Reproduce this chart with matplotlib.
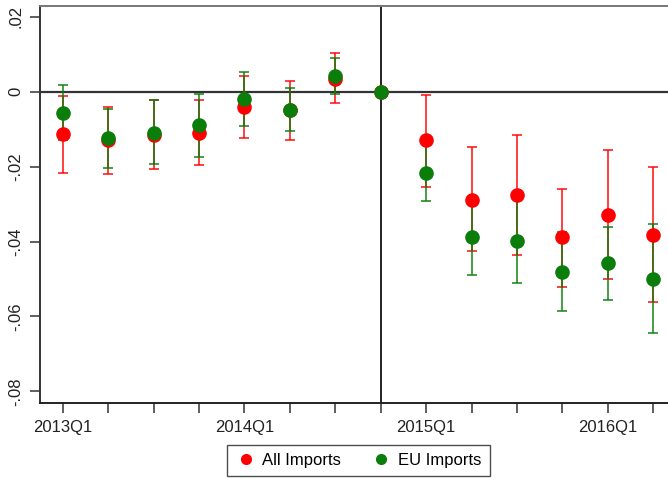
"""Event-study style coefficient plot: All Imports vs EU Imports by quarter."""

import matplotlib

matplotlib.use("Agg")
import matplotlib.pyplot as plt
from matplotlib.lines import Line2D

plt.rcParams["font.family"] = ["Liberation Sans", "DejaVu Sans"]

quarters = [
    "2013Q1", "2013Q2", "2013Q3", "2013Q4",
    "2014Q1", "2014Q2", "2014Q3", "2014Q4",
    "2015Q1", "2015Q2", "2015Q3", "2015Q4",
    "2016Q1", "2016Q2",
]
tick_labels = ["2013Q1", "2014Q1", "2015Q1", "2016Q1"]
event_quarter = "2014Q4"

all_coef = [-0.0114, -0.0129, -0.0115, -0.0109, -0.0041, -0.0050, 0.0035, 0.0,
            -0.0130, -0.0288, -0.0275, -0.0389, -0.0328, -0.0382]
all_hi = [-0.0011, -0.0041, -0.0021, -0.0021, 0.0042, 0.0029, 0.0104, 0.0,
          -0.0008, -0.0148, -0.0116, -0.0259, -0.0155, -0.0200]
all_lo = [-0.0217, -0.0220, -0.0205, -0.0195, -0.0123, -0.0128, -0.0030, 0.0,
          -0.0253, -0.0425, -0.0436, -0.0520, -0.0500, -0.0561]

eu_coef = [-0.0058, -0.0123, -0.0109, -0.0090, -0.0020, -0.0048, 0.0042, 0.0,
           -0.0216, -0.0388, -0.0398, -0.0481, -0.0457, -0.0500]
eu_hi = [0.0017, -0.0045, -0.0021, -0.0006, 0.0054, 0.0011, 0.0089, 0.0,
         -0.0138, -0.0285, -0.0285, -0.0375, -0.0360, -0.0354]
eu_lo = [-0.0130, -0.0203, -0.0193, -0.0175, -0.0091, -0.0105, -0.0005, 0.0,
         -0.0292, -0.0489, -0.0511, -0.0586, -0.0555, -0.0644]

RED = "#ff0000"
GREEN = "#0a7d0a"

x = list(range(len(quarters)))
event_x = quarters.index(event_quarter)

fig = plt.figure(figsize=(6.68, 4.79), dpi=100)
ax = fig.add_axes([40 / 668, 76 / 479, 636 / 668, 397 / 479])

for coef, lo, hi, col in ((all_coef, all_lo, all_hi, RED), (eu_coef, eu_lo, eu_hi, GREEN)):
    idx = [i for i in x if i != event_x]
    ax.errorbar(
        idx,
        [coef[i] for i in idx],
        yerr=[[coef[i] - lo[i] for i in idx], [hi[i] - coef[i] for i in idx]],
        fmt="none", ecolor=col, elinewidth=1.4, capsize=3.6, capthick=1.4,
        alpha=0.75, zorder=2,
    )
ax.plot(x, all_coef, "o", color=RED, markersize=9.5, zorder=3)
ax.plot(x, eu_coef, "o", color=GREEN, markersize=9.5, zorder=4)

ax.axhline(0, color="#333333", linewidth=1.6, zorder=1)
ax.axvline(event_x, color="#111111", linewidth=1.3, zorder=1)

ax.set_xlim(-0.5, len(quarters) - 0.5)
ax.set_ylim(-0.0831, 0.0229)
ax.set_xticks(x)
ax.set_xticklabels([q if q in tick_labels else "" for q in quarters], fontsize=12, color="#222222")
yticks = [0.02, 0.0, -0.02, -0.04, -0.06, -0.08]
ax.set_yticks(yticks)
ax.set_yticklabels([".02", "0", "-.02", "-.04", "-.06", "-.08"], rotation=90, va="center",
                   fontsize=12, color="#222222")
ax.tick_params(axis="both", length=7, width=1.1, color="#333333", pad=5)

ax.spines["left"].set_color("#333333")
ax.spines["bottom"].set_color("#222222")
ax.spines["top"].set_color("#777777")
ax.spines["right"].set_visible(False)
for s in ("left", "bottom", "top"):
    ax.spines[s].set_linewidth(1.4)

handles = [
    Line2D([], [], linestyle="none", marker="o", color=RED, markersize=7),
    Line2D([], [], linestyle="none", marker="o", color=GREEN, markersize=7),
]
fig.legend(handles, ["All Imports", "EU Imports"], loc="center", bbox_to_anchor=(358.5 / 668, 18.5 / 479),
           ncol=2, fontsize=12, frameon=True, fancybox=False, edgecolor="#222222",
           handletextpad=0.4, columnspacing=1.8, borderpad=0.5, handlelength=1.2)

fig.savefig("out.png", dpi=100)
